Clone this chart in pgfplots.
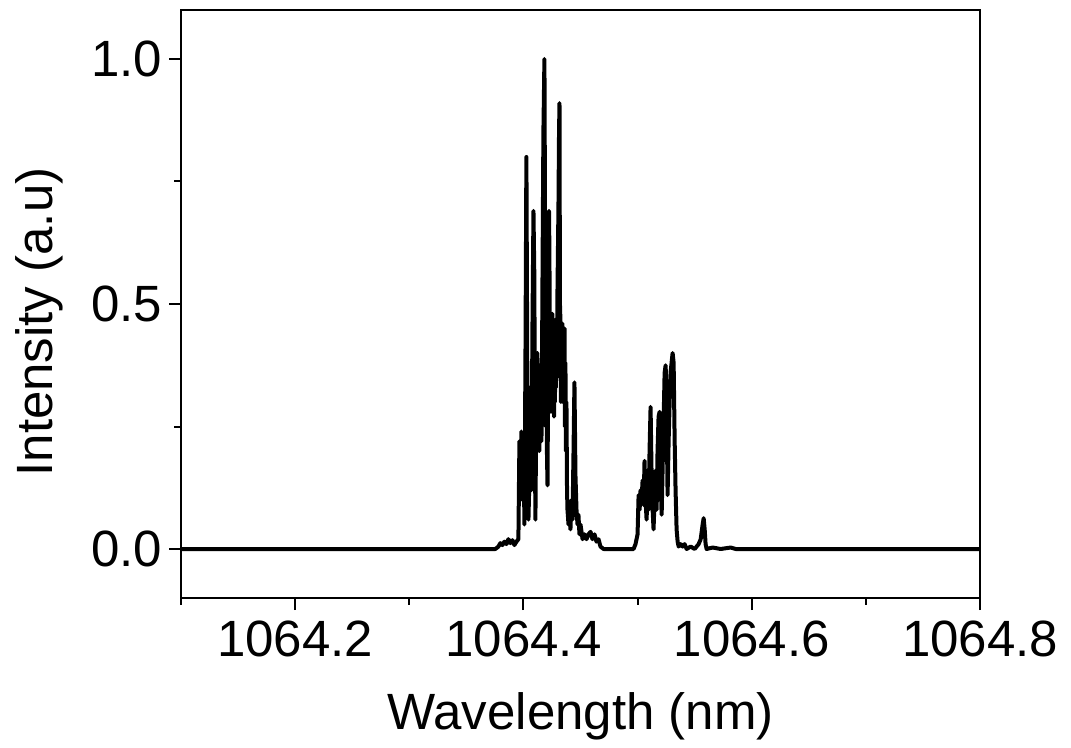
\documentclass[border=0pt]{standalone}
\usepackage{fontspec}
\setmainfont{Liberation Sans}
\usepackage{pgfplots}
\pgfplotsset{compat=1.18}

\pgfplotstableread{
x y
1064.1000 0.0
1064.3754 0.0
1064.3781 0.005
1064.3798 0.012
1064.3816 0.008
1064.3833 0.015
1064.3851 0.010
1064.3868 0.020
1064.3886 0.012
1064.3904 0.018
1064.3921 0.008
1064.3939 0.015
1064.3956 0.020
1064.3965 0.22
1064.3970 0.18
1064.3974 0.20
1064.3978 0.15
1064.3982 0.24
1064.3991 0.10
1064.3996 0.20
1064.4000 0.23
1064.4009 0.05
1064.4018 0.40
1064.4026 0.80
1064.4035 0.30
1064.4040 0.18
1064.4044 0.06
1064.4053 0.15
1064.4057 0.25
1064.4061 0.33
1064.4066 0.20
1064.4070 0.12
1064.4079 0.45
1064.4088 0.69
1064.4096 0.55
1064.4100 0.25
1064.4105 0.06
1064.4109 0.18
1064.4114 0.25
1064.4118 0.38
1064.4123 0.40
1064.4127 0.26
1064.4132 0.30
1064.4136 0.22
1064.4140 0.20
1064.4145 0.32
1064.4149 0.36
1064.4153 0.26
1064.4158 0.22
1064.4162 0.35
1064.4167 0.55
1064.4175 0.85
1064.4184 1.00
1064.4188 0.75
1064.4193 0.45
1064.4197 0.25
1064.4202 0.35
1064.4206 0.20
1064.4211 0.13
1064.4215 0.30
1064.4219 0.50
1064.4224 0.69
1064.4228 0.60
1064.4232 0.30
1064.4237 0.45
1064.4241 0.28
1064.4246 0.40
1064.4250 0.30
1064.4254 0.48
1064.4259 0.32
1064.4263 0.44
1064.4268 0.27
1064.4272 0.42
1064.4276 0.30
1064.4281 0.46
1064.4285 0.33
1064.4289 0.47
1064.4294 0.35
1064.4298 0.52
1064.4303 0.62
1064.4307 0.70
1064.4312 0.85
1064.4316 0.91
1064.4320 0.50
1064.4325 0.46
1064.4329 0.30
1064.4333 0.45
1064.4338 0.33
1064.4342 0.46
1064.4346 0.30
1064.4351 0.44
1064.4355 0.35
1064.4360 0.45
1064.4364 0.25
1064.4368 0.38
1064.4373 0.20
1064.4377 0.30
1064.4382 0.12
1064.4386 0.08
1064.4395 0.05
1064.4404 0.08
1064.4412 0.04
1064.4421 0.10
1064.4430 0.06
1064.4439 0.20
1064.4447 0.34
1064.4456 0.15
1064.4465 0.08
1064.4474 0.05
1064.4482 0.07
1064.4491 0.03
1064.4500 0.05
1064.4518 0.02
1064.4535 0.03
1064.4553 0.02
1064.4570 0.03
1064.4588 0.035
1064.4605 0.02
1064.4623 0.03
1064.4640 0.015
1064.4658 0.02
1064.4675 0.005
1064.4702 0.0
1064.4965 0.0
1064.4982 0.01
1064.5000 0.03
1064.5009 0.11
1064.5018 0.08
1064.5026 0.12
1064.5035 0.10
1064.5044 0.14
1064.5053 0.09
1064.5061 0.18
1064.5070 0.10
1064.5079 0.06
1064.5088 0.12
1064.5096 0.08
1064.5105 0.20
1064.5114 0.29
1064.5123 0.15
1064.5132 0.08
1064.5140 0.04
1064.5149 0.10
1064.5158 0.16
1064.5167 0.08
1064.5175 0.20
1064.5184 0.27
1064.5193 0.28
1064.5202 0.14
1064.5211 0.07
1064.5219 0.16
1064.5228 0.26
1064.5237 0.36
1064.5246 0.375
1064.5254 0.30
1064.5263 0.11
1064.5272 0.22
1064.5281 0.30
1064.5289 0.36
1064.5298 0.38
1064.5307 0.40
1064.5316 0.38
1064.5325 0.22
1064.5333 0.12
1064.5342 0.04
1064.5351 0.015
1064.5360 0.005
1064.5377 0.01
1064.5395 0.005
1064.5412 0.01
1064.5430 0.0
1064.5465 0.005
1064.5500 0.0
1064.5535 0.01
1064.5553 0.02
1064.5570 0.05
1064.5579 0.063
1064.5588 0.04
1064.5596 0.01
1064.5605 0.0
1064.5658 0.003
1064.5728 0.0
1064.5816 0.003
1064.5860 0.0
1064.8000 0.0
}\spectrum

\begin{document}
\begin{tikzpicture}
\begin{axis}[
  scale only axis,
  width=399.5pt, height=294pt,
  xmin=1064.1, xmax=1064.8,
  ymin=-0.1, ymax=1.1,
  xtick={1064.2,1064.4,1064.6,1064.8},
  minor xtick={1064.1,1064.3,1064.5,1064.7},
  ytick={0,0.5,1.0},
  minor ytick={0.25,0.75},
  scaled ticks=false,
  xticklabel style={yshift=-2pt, /pgf/number format/.cd, fixed, fixed zerofill, precision=1, 1000 sep={}},
  yticklabel style={/pgf/number format/.cd, fixed, fixed zerofill, precision=1},
  /pgf/number format/assume math mode=true,
  tick align=outside,
  xtick pos=bottom, ytick pos=left,
  major tick length=6pt, minor tick length=3.3pt,
  every tick/.style={black, line width=1pt},
  axis line style={line width=1pt},
  font=\fontsize{25.5}{30}\selectfont,
  xlabel={Wavelength (nm)},
  ylabel={Intensity (a.u)},
  xlabel style={yshift=-11pt},
  ylabel style={yshift=7pt, xshift=-9pt},
]
\addplot[black, line width=2pt, line join=round] table[x=x, y=y] {\spectrum};
\end{axis}
\path (current axis.south west) ++(-90.5pt,-72pt);
\path (current axis.north east) ++(45.5pt,5pt);
\end{tikzpicture}
\end{document}
